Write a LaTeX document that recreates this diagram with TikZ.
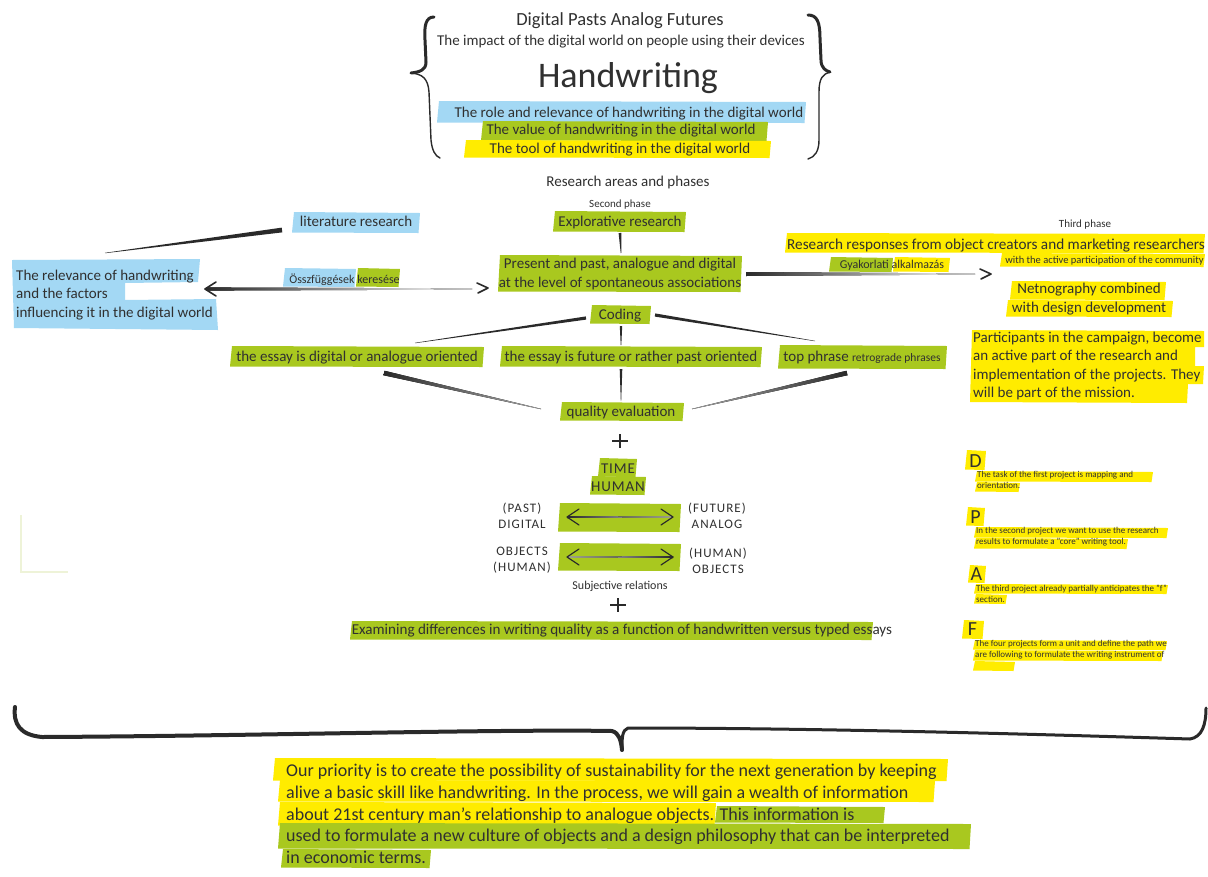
\documentclass[tikz,border=0pt]{standalone}
\usepackage{fontspec}
\setmainfont{Carlito}
\usetikzlibrary{calc}
\definecolor{hlB}{HTML}{A3D8F4}
\definecolor{hlG}{HTML}{A9C81F}
\definecolor{hlY}{HTML}{FFEC00}
\definecolor{ink}{HTML}{2A2A2A}
\definecolor{txtc}{HTML}{303030}
\definecolor{faint}{HTML}{EEF3D8}
% highlighter strip: colour, left, top, right, bottom
\newcommand\hl[5]{\fill[#1] ({#2+2},{#3}) -- ({#4},{#3+1}) -- ({#4-1.5},{#5}) -- ({#2},{#5-0.5}) -- cycle;}
% tapered brush stroke between two named points: style, from, to, half-width at start, half-width at end
\newcommand\taper[5][ink]{\fill[#1] ($(#2)!#4!90:(#3)$) -- ($(#3)!#5!-90:(#2)$) -- ($(#3)!#5!90:(#2)$) -- ($(#2)!#4!-90:(#3)$) -- cycle;}
\begin{document}
\begin{tikzpicture}[x=1pt,y=-1pt,
  lbl/.style={inner sep=0pt, text=txtc},
  f9/.style={font=\fontsize{9}{11}\selectfont},
  f11/.style={font=\fontsize{11}{13}\selectfont},
  f12/.style={font=\fontsize{12}{14}\selectfont},
  f15/.style={font=\fontsize{15}{18.3}\selectfont},
  caps/.style={font=\fontsize{13}{15.7}\selectfont\addfontfeatures{LetterSpace=8}},
  chev/.style={draw=ink, line width=1.6pt, line cap=round, line join=round},
  brace/.style={draw=ink, line cap=round, line join=round},
  plus/.style={draw=ink, line width=2.2pt}]
\useasboundingbox (0,0) rectangle (1208,876);
\fill[white] (0,0) rectangle (1208,876);

% ---------- title braces ----------
\draw[brace, line width=3pt] (434,17) .. controls (426,17) and (424,25) .. (425,40) -- (426,62) .. controls (426,70) and (420,72) .. (411,73);
\draw[brace, line width=1.4pt] (411,73) .. controls (422,74) and (428,78) .. (429,92) -- (431,140) .. controls (432,150) and (435,156) .. (440,158);
\draw[brace, line width=3pt] (808,15) .. controls (817,15) and (820,22) .. (820,38) -- (821,60) .. controls (821,68) and (826,71) .. (830,72);
\draw[brace, line width=1.4pt] (830,72) .. controls (823,74) and (819,78) .. (819,92) -- (819,140) .. controls (819,151) and (815,157) .. (808,159);

% ---------- highlighter strips ----------
\hl{hlB}{437}{101}{806}{123}
\hl{hlG}{481}{121}{768}{141}
\hl{hlY}{464}{140}{771}{158}
\hl{hlG}{553}{211}{686}{232}
\hl{hlG}{498}{255}{742}{292}
\hl{hlB}{292}{212}{420}{233}
\fill[hlB] (12,260) -- (200,259) -- (198,282) -- (125,283) -- (125,300) -- (216,299) -- (218,330) -- (14,328) -- cycle;
\hl{hlB}{283}{268}{356}{287}
\hl{hlG}{356}{268}{400}{287}
\hl{hlY}{785}{233}{1205}{253}
\hl{hlY}{1000}{253}{1205}{267}
\hl{hlG}{829}{257}{893}{272}
\hl{hlY}{893}{257}{950}{272}
\hl{hlY}{1010}{281}{1166}{300}
\hl{hlY}{1006}{300}{1173}{317}
\fill[hlY] (972,330) -- (1204,331) -- (1204,347) -- (1195,347) -- (1195,366) -- (1204,366) -- (1203,384) -- (1188,384) -- (1187,403) -- (970,402) -- cycle;
\hl{hlG}{590}{305}{651}{324}
\hl{hlG}{230}{346}{484}{367}
\hl{hlG}{500}{346}{762}{367}
\hl{hlG}{778}{345}{947}{369}
\hl{hlG}{560}{402}{684}{421}
\hl{hlG}{598}{458}{637}{477}
\hl{hlG}{590}{476}{646}{495}
\hl{hlG}{558}{503}{681}{532}
\hl{hlG}{558}{543}{681}{571}
\hl{hlG}{350}{621}{873}{640}
% project letters and notes
\hl{hlY}{965}{450}{986}{470}
\hl{hlY}{975}{471}{1153}{482}
\hl{hlY}{975}{482}{1020}{492}
\hl{hlY}{966}{507}{985}{526}
\hl{hlY}{974}{527}{1168}{538}
\hl{hlY}{974}{538}{1128}{549}
\hl{hlY}{968}{565}{986}{583}
\hl{hlY}{974}{584}{1168}{594}
\hl{hlY}{974}{594}{1007}{604}
\hl{hlY}{962}{620}{984}{639}
\hl{hlY}{973}{640}{1167}{650}
\hl{hlY}{973}{650}{1163}{661}
\hl{hlY}{973}{661}{1015}{671}
% closing paragraph
\hl{hlY}{273}{758}{948}{781}
\hl{hlY}{278}{780}{935}{802}
\hl{hlY}{278}{802}{716}{826}
\hl{hlG}{715}{806}{885}{823}
\hl{hlG}{278}{823}{971}{849}
\hl{hlG}{281}{849}{431}{868}

% faint corner mark
\draw[faint, line width=1.2pt] (21,515) -- (21,572) -- (68,572);

% ---------- texts ----------
\node[lbl, anchor=base, font=\fontsize{18.5}{22}\selectfont] (title) at (620,25) {Digital Pasts Analog Futures};
\node[lbl, anchor=base, f15] (impact) at (621,45) {The impact of the digital world on people using their devices};
\node[lbl, anchor=base, font=\fontsize{36}{40}\selectfont] (hand) at (628,87) {Handwriting};
\node[lbl, anchor=base, f15] (role) at (629,117) {The role and relevance of handwriting in the digital world};
\node[lbl, anchor=base, f15] (value) at (621,134) {The value of handwriting in the digital world};
\node[lbl, anchor=base, f15] (tool) at (620,153) {The tool of handwriting in the digital world};

\node[lbl, anchor=base, f15] (areas) at (628,186) {Research areas and phases};
\node[lbl, anchor=base, f11] (second) at (620,207) {Second phase};
\node[lbl, anchor=base, f15] (explor) at (620,226) {Explorative research};
\node[lbl, f15, align=center] (present) at (620,274) {Present and past, analogue and digital\\at the level of spontaneous associations};
\node[lbl, anchor=base, f15] (lit) at (356,226) {literature research};
\node[lbl, f15, align=left, anchor=west] (relev) at (16,295) {The relevance of handwriting\\and the factors\\influencing it in the digital world};
\node[lbl, anchor=base, f12] (search) at (344.5,283) {Összfüggések keresése};

\node[lbl, anchor=base, f11] (third) at (1085,227) {Third phase};
\node[lbl, anchor=base, font=\fontsize{15.2}{18}\selectfont] (resp) at (996,249) {Research responses from object creators and marketing researchers};
\node[lbl, anchor=base, font=\fontsize{10.5}{12}\selectfont] (partic) at (1104.5,263) {with the active participation of the community};
\node[lbl, anchor=base, f12] (apply) at (892,268) {Gyakorlati alkalmazás};
\node[lbl, f15, align=center] (netno) at (1089,299) {Netnography combined\\with design development};
\node[lbl, f15, align=left, anchor=west] (campaign) at (973,366) {Participants in the campaign, become\\an active part of the research and\\implementation of the projects. They\\will be part of the mission.};

\node[lbl, anchor=base, f15] (coding) at (620,319) {Coding};
\node[lbl, anchor=base, f15] (essay1) at (357,361) {the essay is digital or analogue oriented};
\node[lbl, anchor=base, f15] (essay2) at (631,361) {the essay is future or rather past oriented};
\node[lbl, anchor=base, f15] (phrase) at (862,361) {top phrase {\fontsize{11.5}{13}\selectfont retrograde phrases}};
\node[lbl, anchor=base, f15] (quality) at (621,416) {quality evaluation};

\node[lbl, caps, align=center, font=\fontsize{15}{18.3}\selectfont\addfontfeatures{LetterSpace=6}] (timehuman) at (618,478) {TIME\\HUMAN};
\node[lbl, caps, align=center] (pastdig) at (522,515.5) {(PAST)\\DIGITAL};
\node[lbl, caps, align=center] (futana) at (717,515.5) {(FUTURE)\\ANALOG};
\node[lbl, caps, align=center] (objhum) at (522,560.5) {OBJECTS\\(HUMAN)};
\node[lbl, caps, align=center] (humobj) at (718,560.5) {(HUMAN)\\OBJECTS};
\node[lbl, anchor=base, f12] (subj) at (620,589) {Subjective relations};
\node[lbl, anchor=base, font=\fontsize{15.1}{18}\selectfont] (exam) at (622,634) {Examining differences in writing quality as a function of handwritten versus typed essays};

% project notes
\node[lbl, anchor=base, font=\fontsize{20}{22}\selectfont] (pD) at (975.5,467) {D};
\node[lbl, f9, align=left, anchor=west] (nD) at (977,480) {The task of the first project is mapping and\\orientation.};
\node[lbl, anchor=base, font=\fontsize{20}{22}\selectfont] (pP) at (975.5,523) {P};
\node[lbl, f9, align=left, anchor=west] (nP) at (976,537) {In the second project we want to use the research\\results to formulate a "core" writing tool.};
\node[lbl, anchor=base, font=\fontsize{20}{22}\selectfont] (pA) at (976.5,580) {A};
\node[lbl, f9, align=left, anchor=west] (nA) at (976,594) {The third project already partially anticipates the "f"\\section.};
\node[lbl, anchor=base, font=\fontsize{20}{22}\selectfont] (pF) at (972.5,635) {F};
\node[lbl, f9, align=left, anchor=west] (nF) at (975,650) {The four projects form a unit and define the path we\\are following to formulate the writing instrument of};

% closing paragraph
\node[lbl, align=left, anchor=west, font=\fontsize{18}{21.6}\selectfont] (goal) at (286,814) {Our priority is to create the possibility of sustainability for the next generation by keeping\\alive a basic skill like handwriting. In the process, we will gain a wealth of information\\about 21st century man's relationship to analogue objects. This information is\\used to formulate a new culture of objects and a design philosophy that can be interpreted\\in economic terms.};

% ---------- brush-stroke connectors ----------
\coordinate (explorB) at (620,233);
\coordinate (presentT) at (621,253);
\taper{explorB}{presentT}{1.4pt}{0.3pt}
\coordinate (litL) at (282,230);
\coordinate (relevT) at (105,253);
\taper{litL}{relevT}{2.4pt}{0.2pt}
\coordinate (searchL) at (206,289);
\coordinate (searchR) at (472,289);
\taper[left color=ink, middle color=ink!90, right color=white]{searchL}{searchR}{1.6pt}{0.6pt}
\draw[chev] (216,282) -- (205,289) -- (216,296);
\draw[chev] (477,283) -- (488,288) -- (478,293);
\coordinate (applyL) at (746,274);
\coordinate (applyR) at (975,274);
\taper[left color=ink, middle color=ink!85, right color=white]{applyL}{applyR}{2pt}{0.5pt}
\draw[chev] (980,269) -- (991,274) -- (981,279);
\coordinate (codingL) at (586,318);
\coordinate (essay1T) at (415,343);
\taper{codingL}{essay1T}{1.6pt}{0.2pt}
\coordinate (codingR) at (655,315);
\coordinate (phraseT) at (815,341);
\taper{codingR}{phraseT}{1.6pt}{0.2pt}
\coordinate (codingB) at (621,326);
\coordinate (essay2T) at (621,345);
\taper{codingB}{essay2T}{1.2pt}{0.3pt}
\coordinate (essay2B) at (621,369);
\coordinate (qualityT) at (621,401);
\taper{essay2B}{qualityT}{1.3pt}{0.2pt}
\coordinate (essay1B) at (384,373);
\coordinate (qualityL) at (541,409);
\taper[left color=ink, right color=ink!40]{essay1B}{qualityL}{2.3pt}{0.2pt}
\coordinate (phraseB) at (847,373);
\coordinate (qualityR) at (692,409);
\taper[right color=ink, left color=ink!40]{phraseB}{qualityR}{2.3pt}{0.2pt}

% plus signs
\draw[plus] (612,441) -- (628,441) (620,434) -- (620,448);
\draw[plus] (610,605) -- (626,605) (618,598) -- (618,612);

% two-headed arrows between the opposites
\coordinate (pastR) at (567,517);
\coordinate (futL) at (673,517);
\taper[left color=ink, middle color=ink!60, right color=ink!20]{pastR}{futL}{1pt}{0.5pt}
\draw[chev, line width=1.2pt] (579,509) -- (567,517) -- (579,525);
\draw[chev, line width=1.2pt] (661,509) -- (673,517) -- (661,525);
\coordinate (objR) at (567,557);
\coordinate (humL) at (673,557);
\taper[left color=ink!20, middle color=ink!60, right color=ink]{objR}{humL}{0.5pt}{1pt}
\draw[chev, line width=1.2pt] (579,549) -- (567,557) -- (579,565);
\draw[chev, line width=1.2pt] (661,549) -- (673,557) -- (661,565);

% closing brace
\draw[brace, line width=4pt] (15,707) .. controls (13,724) and (20,735) .. (42,737) .. controls (250,736) and (500,729) .. (612,731) .. controls (619,733) and (621,740) .. (622,750);
\draw[brace, line width=3pt] (622,750) .. controls (622,738) and (622,730) .. (628,728) .. controls (800,728) and (1000,733) .. (1190,739) .. controls (1202,737) and (1206,725) .. (1206,708);
\end{tikzpicture}
\end{document}
